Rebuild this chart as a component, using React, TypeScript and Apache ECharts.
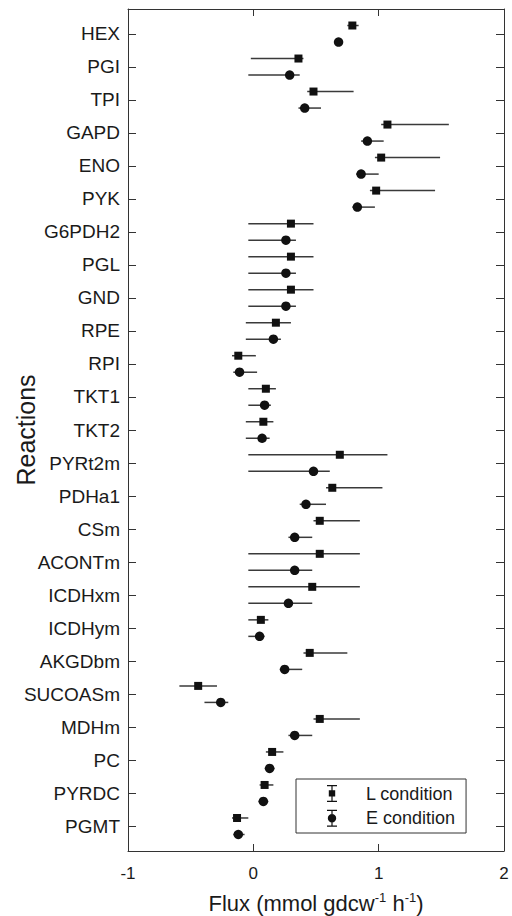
import React, { useEffect, useRef } from "react";
import * as echarts from "echarts";

const reactions = ["HEX", "PGI", "TPI", "GAPD", "ENO", "PYK", "G6PDH2", "PGL", "GND", "RPE", "RPI", "TKT1", "TKT2", "PYRt2m", "PDHa1", "CSm", "ACONTm", "ICDHxm", "ICDHym", "AKGDbm", "SUCOASm", "MDHm", "PC", "PYRDC", "PGMT"];

const lFlux = [0.79, 0.36, 0.48, 1.07, 1.02, 0.98, 0.30, 0.30, 0.30, 0.18, -0.12, 0.10, 0.08, 0.69, 0.63, 0.53, 0.53, 0.47, 0.06, 0.45, -0.44, 0.53, 0.15, 0.09, -0.13];
const lLow = [0.75, -0.02, 0.43, 1.02, 0.97, 0.93, -0.04, -0.04, -0.04, -0.06, -0.17, -0.04, -0.06, -0.04, 0.58, 0.48, -0.04, -0.04, -0.04, 0.40, -0.59, 0.48, 0.10, 0.05, -0.17];
const lHigh = [0.84, 0.40, 0.80, 1.56, 1.49, 1.45, 0.48, 0.48, 0.48, 0.30, 0.02, 0.18, 0.16, 1.07, 1.03, 0.85, 0.85, 0.85, 0.12, 0.75, -0.29, 0.85, 0.24, 0.16, -0.04];

const eFlux = [0.68, 0.29, 0.41, 0.91, 0.86, 0.83, 0.26, 0.26, 0.26, 0.16, -0.11, 0.09, 0.07, 0.48, 0.42, 0.33, 0.33, 0.28, 0.05, 0.25, -0.26, 0.33, 0.13, 0.08, -0.12];
const eLow = [0.66, -0.04, 0.36, 0.86, 0.82, 0.79, -0.04, -0.04, -0.04, -0.06, -0.16, -0.04, -0.06, -0.04, 0.37, 0.28, -0.04, -0.04, -0.04, 0.21, -0.39, 0.28, 0.09, 0.04, -0.16];
const eHigh = [0.70, 0.37, 0.54, 1.04, 1.00, 0.97, 0.34, 0.34, 0.34, 0.22, 0.03, 0.14, 0.13, 0.61, 0.58, 0.47, 0.47, 0.47, 0.09, 0.39, -0.20, 0.47, 0.17, 0.12, -0.07];

const seriesNames = ["L condition", "E condition"];
const xMin = -1;
const xMax = 2;
const xStep = 1;

const FONT = "'Liberation Sans', Arial, Helvetica, sans-serif";
const INK = "#1a1a1a";
const FRAME = "#333";

const L_ICON = "path://M0,0H10V1.2H0Z M0,15.8H10V17H0Z M4.4,0H5.6V17H4.4Z M1.8,5.2H8.2V11.6H1.8Z";
const E_ICON = "path://M0,0H10V1.2H0Z M0,15.8H10V17H0Z M4.4,0H5.6V17H4.4Z M0.8,8.5A4.2,4.2 0 1,1 9.2,8.5A4.2,4.2 0 1,1 0.8,8.5Z";

function errorSeries(name: string, lo: number[], hi: number[], off: number) {
  return {
    name,
    type: "custom",
    xAxisIndex: 0,
    yAxisIndex: 0,
    z: 2,
    encode: { x: [0, 1], y: 2 },
    data: lo.map((v, i) => [v, hi[i], i + off]),
    renderItem: (params: any, api: any) => {
      const a = api.coord([api.value(0), api.value(2)]);
      const b = api.coord([api.value(1), api.value(2)]);
      return {
        type: "line",
        shape: { x1: a[0], y1: a[1], x2: b[0], y2: b[1] },
        style: { stroke: "#3a3a3a", lineWidth: 1.5 },
      };
    },
  };
}

export default function App() {
  const ref = useRef<HTMLDivElement>(null);
  useEffect(() => {
    if (!ref.current) return;
    const chart = echarts.init(ref.current, null, { renderer: "svg" });
    const idx = reactions.map((_, i) => i);
    const yBase = {
      type: "value",
      inverse: true,
      min: -0.75,
      max: reactions.length - 0.25,
      splitLine: { show: false },
      axisLine: { show: true, onZero: false, lineStyle: { color: FRAME, width: 1 } },
    };
    const xBase = {
      type: "value",
      min: xMin,
      max: xMax,
      interval: xStep,
      splitLine: { show: false },
      axisLine: { show: true, onZero: false, lineStyle: { color: FRAME, width: 1 } },
      axisTick: { show: true, inside: true, length: 7, lineStyle: { color: FRAME } },
    };
    chart.setOption({
      animation: false,
      backgroundColor: "#fff",
      textStyle: { fontFamily: FONT, color: INK },
      grid: { left: 128, right: 8, top: 9, bottom: 65, containLabel: false, outerBoundsMode: "none" },
      legend: {
        orient: "vertical",
        left: 296,
        top: 779,
        padding: [5.5, 11, 5.8, 31],
        itemWidth: 10,
        itemHeight: 17,
        itemGap: 6.7,
        borderColor: FRAME,
        borderWidth: 1,
        selectedMode: false,
        textStyle: { fontFamily: FONT, fontSize: 18, color: INK, lineHeight: 17, padding: [0, 0, 0, 24] },
        data: [
          { name: seriesNames[0], icon: L_ICON, itemStyle: { color: "#111", opacity: 1 } },
          { name: seriesNames[1], icon: E_ICON, itemStyle: { color: "#111", opacity: 1 } },
        ],
      },
      xAxis: [
        {
          ...xBase,
          position: "bottom",
          axisLabel: { show: true, fontSize: 17, color: INK, fontFamily: FONT, margin: 14 },
          name: "Flux (mmol gdcw{sup|-1} h{sup|-1})",
          nameLocation: "middle",
          nameGap: 40,
          nameMoveOverlap: false,
          nameTextStyle: {
            fontSize: 22,
            color: INK,
            fontFamily: FONT,
            rich: { sup: { fontSize: 13, color: INK, fontFamily: FONT, padding: [0, 0, 12, 0] } },
          },
        },
        { ...xBase, position: "top", axisLabel: { show: false } },
      ],
      yAxis: [
        {
          ...yBase,
          position: "left",
          axisTick: { show: true, inside: true, length: 8, customValues: idx, lineStyle: { color: FRAME } },
          axisLabel: {
            show: true,
            customValues: idx,
            fontSize: 19,
            color: INK,
            fontFamily: FONT,
            margin: 8,
            formatter: (v: number) => reactions[Math.round(v)] ?? "",
          },
          name: "Reactions",
          nameLocation: "middle",
          nameRotate: 90,
          nameGap: 90,
          nameMoveOverlap: false,
          nameTextStyle: { fontSize: 25, color: INK, fontFamily: FONT },
        },
        {
          ...yBase,
          position: "right",
          axisTick: { show: true, inside: true, length: 8, customValues: idx, lineStyle: { color: FRAME } },
          axisLabel: { show: false },
        },
      ],
      series: [
        errorSeries(seriesNames[0], lLow, lHigh, -0.25),
        errorSeries(seriesNames[1], eLow, eHigh, 0.25),
        {
          name: seriesNames[0],
          type: "scatter",
          z: 3,
          symbol: "rect",
          symbolSize: 8,
          itemStyle: { color: "#111", opacity: 1 },
          data: lFlux.map((v, i) => [v, i - 0.25]),
        },
        {
          name: seriesNames[1],
          type: "scatter",
          z: 3,
          symbol: "circle",
          symbolSize: 9.5,
          itemStyle: { color: "#111", opacity: 1 },
          data: eFlux.map((v, i) => [v, i + 0.25]),
        },
      ],
    });
    return () => chart.dispose();
  }, []);
  return <div ref={ref} style={{ width: 512, height: 916, position: "absolute", left: 0, top: 0 }} />;
}
